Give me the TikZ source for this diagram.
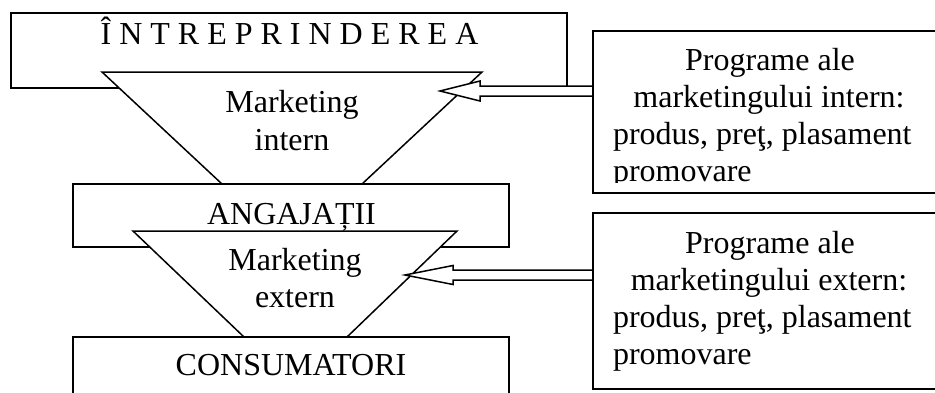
\documentclass[tikz,border=0pt]{standalone}
\usepackage{fontspec}
\setmainfont{Liberation Serif}
\usetikzlibrary{calc}
\tikzset{
  box/.style={draw, line width=1.5pt, fill=white, inner sep=0pt, outer sep=0pt},
  fig/.style={draw, line width=1.5pt, fill=white, line join=miter},
  txt/.style={font=\fontsize{32}{37}\selectfont, inner sep=0pt, outer sep=0pt, anchor=base},
  txtl/.style={txt, anchor=base west}
}
\begin{document}
\begin{tikzpicture}[x=1pt,y=-1pt]
\useasboundingbox (0,0) rectangle (935,392);
\clip (0,0) rectangle (935,392);
% top box
\node[box, minimum width=556pt, minimum height=75pt] (firm) at (289,50.5) {};
% trapezoid 1
\coordinate (ta1) at (102,72);
\coordinate (tb1) at (482,72);
\coordinate (tc1) at (362,184);
\coordinate (td1) at (222,184);
\draw[fig] (ta1) -- (tb1) -- (tc1) -- (td1) -- cycle;
% program box intern
\node[box, minimum width=347pt, minimum height=162pt] (progint) at (766.5,112) {};
% arrow 1
\coordinate (t1) at (440,91);
\draw[fig] (t1) -- ++(40,-10) -- ++(0,5) -- ($(t1 -| progint.west)+(0,-5)$)
  -- ($(t1 -| progint.west)+(0,5)$) -- ($(t1)+(40,5)$) -- ++(0,5) -- cycle;
\draw[line width=1.5pt] (progint.north west) -- (progint.south west);
% middle box
\node[box, minimum width=436pt, minimum height=63pt] (angaj) at (291,215.5) {};
% trapezoid 2
\coordinate (ta2) at (133,231);
\coordinate (tb2) at (457,231);
\coordinate (tc2) at (347,337);
\coordinate (td2) at (244,337);
\draw[fig] (ta2) -- (tb2) -- (tc2) -- (td2) -- cycle;
% program box extern
\node[box, minimum width=347pt, minimum height=176pt] (progext) at (766.5,301) {};
% arrow 2
\coordinate (t2) at (405,275);
\draw[fig] (t2) -- ++(48,-9.5) -- ++(0,4.5) -- ($(t2 -| progext.west)+(0,-5)$)
  -- ($(t2 -| progext.west)+(0,5)$) -- ($(t2)+(48,5)$) -- ++(0,4.5) -- cycle;
\draw[line width=1.5pt] (progext.north west) -- (progext.south west);
% bottom box
\node[box, minimum width=436pt, minimum height=63pt] (consum) at (291,368.5) {};
% texts
\node[txt] (tfirm) at (289.5,44) {Î N T R E P R I N D E R E A};
\node[txt] (mi1) at (292,112) {Marketing};
\node[txt] (mi2) at (292,150) {intern};
\node[txt] (tang) at (291.5,224) {ANGAJAȚII};
\node[txt] (me1) at (295,270) {Marketing};
\node[txt] (me2) at (295,307) {extern};
\node[txt] (tcons) at (291,375) {CONSUMATORI};
\node[txt] (pi1) at (770,70) {Programe ale};
\node[txt] (pi2) at (769,107) {marketingului intern:};
\node[txtl] (pi3) at (613,144) {produs, preţ, plasament};
\begin{scope}
\clip (593,31) rectangle (940,182);
\node[txtl] (pi4) at (613,181) {promovare};
\end{scope}
\node[txt] (pe1) at (770,253) {Programe ale};
\node[txt] (pe2) at (769,290) {marketingului extern:};
\node[txtl] (pe3) at (613,327) {produs, preţ, plasament};
\node[txtl] (pe4) at (613,364) {promovare};
\end{tikzpicture}
\end{document}
